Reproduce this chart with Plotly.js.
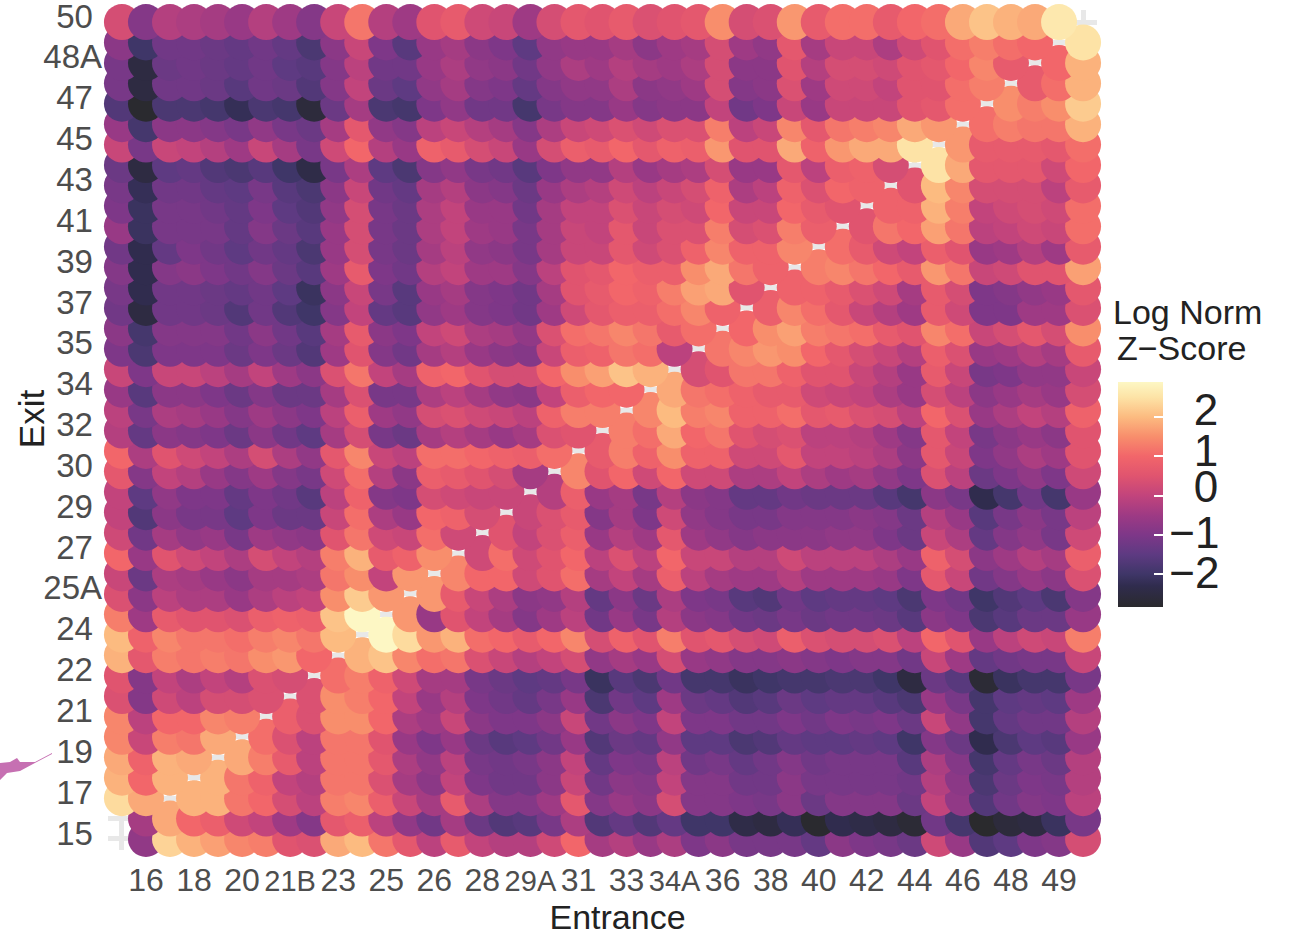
<!DOCTYPE html>
<html><head><meta charset="utf-8">
<script src="https://cdn.plot.ly/plotly-3.0.1.min.js"></script>
<style>html,body{margin:0;padding:0;background:#fff}</style>
</head><body><div id="chart" style="width:1289px;height:937px"></div>
<script>
const categories = ["15","16","17","18","19","20","21","21B","22","23","24","25","25A","26","27","28","29","29A","30","31","32","33","34","34A","35","36","37","38","39","40","41","42","43","44","45","46","47","48","48A","49","50"];
const xTickLabels = {"16":"16","18":"18","20":"20","21B":"21B","23":"23","25":"25","26":"26","28":"28","29A":"29A","31":"31","33":"33","34A":"34A","36":"36","38":"38","40":"40","42":"42","44":"44","46":"46","48":"48","49":"49"};
const yTickLabels = ["15","17","19","21","22","24","25A","27","29","30","32","34","35","37","39","41","43","45","47","48A","50"];
const narrowLabels = ["21B","29A","34A"];
const row15 = [null,-0.7,2.3,1.9,1.7,1.4,1.3,0.5,0.4,1.8,2.0,1.2,0.6,-0.1,0.7,0.0,-0.2,-0.2,0.2,1.0,-0.4,-0.2,-0.6,-0.3,-1.0,-0.8,-1.1,-1.1,-1.1,-1.4,-0.8,-1.0,-1.1,-1.3,0.2,-0.6,-1.7,-1.5,-1.0,-0.9,0.3];
const row16 = [null,-0.4,1.8,1.0,0.8,0.2,0.0,-0.5,-0.9,0.6,0.8,-0.1,-0.7,-1.2,-0.4,-1.3,-1.7,-1.6,-1.1,-0.3,-1.7,-1.4,-1.7,-1.4,-2.0,-2.0,-2.4,-2.5,-2.2,-2.8,-2.3,-2.4,-2.5,-2.7,-1.2,-1.9,-2.9,-2.6,-2.5,-2.1,-1.1];
const row17 = [2.4,1.8,null,1.9,1.9,1.2,1.0,0.3,-0.1,1.3,1.4,0.8,0.1,-0.4,0.7,-0.3,-0.9,-0.9,-0.5,0.6,-0.9,-0.6,-0.8,0.3,-0.9,-0.9,-1.0,-1.1,-0.8,-1.3,-0.9,-0.9,-0.9,-1.3,0.0,-0.7,-1.7,-1.2,-0.9,-1.0,-0.1];
const row18 = [1.9,1.0,1.9,null,1.9,1.2,0.9,0.0,-0.2,1.2,1.2,0.4,-0.4,-0.8,0.0,-1.0,-1.2,-1.2,-0.8,0.1,-1.2,-0.8,-0.9,0.0,-0.9,-0.9,-1.2,-1.2,-0.8,-1.1,-1.1,-1.1,-1.1,-1.2,-0.2,-0.8,-1.8,-1.3,-1.0,-1.1,-0.2];
const row19 = [1.8,0.9,1.9,1.8,null,1.8,1.3,0.7,-0.1,1.2,1.2,0.6,-0.3,-0.7,-0.1,-1.1,-1.2,-1.1,-0.8,0.0,-1.4,-1.0,-1.1,-0.1,-1.2,-1.1,-1.4,-1.2,-0.9,-1.2,-1.1,-1.1,-1.1,-1.6,-0.3,-0.9,-1.9,-1.4,-1.1,-1.3,-0.2];
const row20 = [1.4,0.1,1.3,1.2,1.8,null,1.1,0.4,-0.1,1.2,1.2,0.5,-0.6,-1.0,-0.6,-1.3,-1.6,-1.5,-1.2,-0.6,-1.7,-1.3,-1.4,-0.7,-1.5,-1.5,-1.8,-1.7,-1.4,-1.5,-1.5,-1.4,-1.5,-2.0,-0.9,-1.3,-2.3,-1.8,-1.5,-1.6,-0.6];
const row21 = [1.4,-0.1,1.0,1.0,1.4,1.3,null,0.8,0.4,1.5,1.5,1.0,-0.3,-0.5,0.1,-0.8,-1.0,-1.0,-0.8,0.1,-1.2,-0.8,-1.0,0.0,-1.0,-1.0,-1.2,-1.2,-1.0,-1.2,-1.0,-1.1,-1.0,-1.3,0.1,-0.7,-1.9,-1.4,-1.2,-1.2,-0.2];
const row21B = [0.4,-0.9,0.2,-0.1,0.3,0.3,0.4,null,0.4,1.5,1.3,1.0,0.0,-0.6,-0.2,-1.0,-1.2,-1.4,-1.1,-0.6,-1.8,-1.2,-1.5,-0.5,-1.3,-1.4,-1.7,-1.6,-1.3,-1.5,-1.4,-1.4,-1.6,-1.8,-0.6,-1.1,-1.9,-1.5,-1.4,-1.5,-0.5];
const row22 = [0.5,-0.9,0.0,-0.3,0.0,-0.2,0.4,0.3,null,1.1,1.3,0.9,0.2,-0.4,-0.4,-1.1,-1.3,-1.5,-1.4,-1.1,-2.1,-1.6,-1.8,-1.2,-1.9,-1.9,-2.1,-2.0,-1.9,-1.9,-1.8,-1.8,-2.0,-2.5,-1.3,-1.6,-2.7,-2.1,-1.9,-1.9,-1.1];
const row23 = [1.9,0.6,1.3,1.2,1.3,1.2,1.5,1.6,1.0,null,1.9,2.1,1.4,1.1,1.2,0.4,0.1,-0.2,0.0,0.3,-0.7,-0.4,-0.6,0.3,-0.6,-0.7,-0.9,-0.9,-0.8,-0.9,-1.0,-0.9,-0.9,-1.2,0.1,-0.5,-1.4,-1.2,-1.1,-1.1,0.1];
const row24 = [2.0,0.9,1.4,1.2,1.2,1.1,1.3,1.4,1.2,2.0,null,2.9,2.4,1.6,1.9,1.1,1.0,0.7,1.0,1.4,0.3,0.9,0.5,1.3,0.5,0.6,0.3,0.2,0.8,0.4,0.3,0.3,0.4,-0.1,1.0,0.5,-0.6,-0.1,0.2,0.1,1.3];
const row25 = [1.3,-0.5,0.7,0.5,0.5,0.4,0.8,0.9,0.8,2.1,2.9,null,1.6,-0.6,0.5,0.0,-0.4,-0.9,-0.5,-0.1,-1.2,-0.6,-1.1,-0.2,-0.8,-0.9,-1.2,-1.3,-1.1,-1.3,-1.2,-1.2,-1.3,-1.6,-0.8,-1.0,-1.8,-1.6,-1.3,-1.3,-0.6];
const row25A = [0.4,-0.8,-0.1,-0.3,-0.3,-0.6,-0.3,-0.1,0.0,1.5,2.2,1.6,null,1.6,0.7,0.1,-0.3,-0.8,-0.7,-0.2,-1.4,-0.8,-1.3,-0.3,-1.0,-1.1,-1.6,-1.7,-1.2,-1.5,-1.4,-1.4,-1.5,-1.8,-1.0,-1.2,-2.0,-1.7,-1.5,-1.8,-0.9];
const row26 = [0.1,-1.3,-0.3,-0.4,-0.6,-0.8,-0.4,-0.4,-0.3,1.2,1.5,0.0,1.6,null,1.4,1.0,1.0,0.2,0.5,1.1,-0.4,0.0,-0.4,0.8,-0.1,-0.4,-0.5,-0.5,-0.2,-0.5,-0.5,-0.5,-0.6,-1.0,0.6,0.1,-1.2,-0.9,-0.6,-0.8,0.4];
const row27 = [1.0,-0.6,0.5,0.2,0.0,-0.3,0.3,0.0,-0.2,1.3,1.9,0.7,0.9,1.5,null,0.2,1.1,0.2,0.5,1.0,-0.1,0.4,-0.1,1.0,0.1,0.1,-0.2,-0.2,0.2,-0.1,-0.1,-0.1,-0.3,-0.6,0.9,0.3,-0.8,-0.5,-0.2,-0.4,0.8];
const row28 = [0.2,-1.2,-0.4,-0.7,-0.6,-1.1,-0.5,-0.7,-0.8,0.5,1.2,0.2,0.1,1.1,0.2,null,0.5,0.0,0.4,0.8,-0.6,-0.2,-0.5,0.6,-0.5,-0.7,-0.9,-0.8,-0.8,-0.8,-0.7,-0.7,-1.0,-1.3,0.1,-0.3,-1.4,-0.9,-0.7,-1.1,0.2];
const row29 = [0.0,-1.7,-0.8,-1.1,-1.1,-1.5,-1.0,-1.3,-1.3,0.1,1.1,-0.3,-0.6,1.0,0.9,0.3,null,0.1,0.4,0.7,-0.9,-0.4,-1.0,0.2,-0.7,-0.9,-1.1,-1.1,-0.9,-0.9,-0.9,-0.8,-0.9,-1.3,-0.2,-0.6,-1.6,-1.1,-0.8,-1.1,-0.1];
const row29A = [0.0,-1.5,-0.7,-1.0,-1.0,-1.4,-1.0,-1.2,-1.6,-0.1,0.9,-0.9,-1.0,0.3,0.2,0.1,0.1,null,-0.2,0.8,-0.6,-0.4,-1.1,-0.2,-0.8,-0.9,-1.4,-1.4,-1.2,-1.3,-1.3,-1.3,-1.6,-1.9,-0.8,-1.1,-2.3,-1.9,-1.2,-1.9,-0.6];
const row30 = [0.6,-0.9,0.0,-0.2,-0.6,-0.9,-0.5,-0.9,-1.1,0.2,1.1,-0.2,-0.8,0.8,0.7,0.5,0.3,-0.4,null,1.4,0.5,1.0,0.2,1.0,0.2,0.2,-0.3,-0.3,0.0,-0.3,-0.5,-0.4,-0.7,-1.0,0.4,-0.1,-1.3,-1.0,-0.7,-1.0,0.2];
const row31 = [1.0,-0.3,0.5,0.2,0.0,-0.3,0.3,-0.3,-0.7,0.6,1.4,0.1,-0.1,1.1,1.1,1.0,0.9,0.8,1.1,null,0.7,1.3,0.9,1.5,0.9,0.9,0.2,0.2,0.6,0.0,0.0,-0.1,-0.3,-0.8,0.6,0.1,-1.0,-0.7,-0.3,-0.5,0.5];
const row32 = [-0.2,-1.4,-0.8,-0.9,-1.0,-1.3,-0.8,-1.2,-1.5,-0.4,0.3,-1.1,-1.3,-0.4,-0.2,-0.4,-0.6,-0.4,0.4,0.5,null,1.3,1.1,1.8,1.0,1.2,0.5,0.3,0.4,-0.1,-0.1,-0.2,-0.5,-0.9,0.6,0.0,-1.1,-0.8,-0.6,-0.8,0.5];
const row33 = [-0.1,-1.1,-0.3,-0.4,-0.6,-0.9,-0.5,-0.8,-1.0,-0.1,0.8,-0.5,-0.7,0.3,0.4,0.2,0.1,-0.1,0.9,1.3,1.3,null,1.4,2.0,1.3,1.4,0.9,0.9,1.1,0.6,0.7,0.4,0.3,-0.1,1.0,0.4,-0.6,-0.3,0.0,-0.2,0.9];
const row34 = [-0.6,-1.6,-0.8,-0.8,-1.0,-1.3,-0.9,-1.3,-1.3,-0.4,0.4,-1.1,-1.1,-0.3,-0.1,-0.4,-0.7,-0.8,0.0,0.8,1.0,1.0,null,1.8,1.2,1.1,0.9,0.7,0.7,0.2,0.1,0.0,-0.3,-0.6,0.3,-0.1,-0.8,-0.6,-0.4,-0.6,0.3];
const row34A = [0.1,-1.0,0.1,0.1,-0.1,-0.4,0.0,-0.5,-0.8,0.4,1.2,0.0,-0.4,0.9,1.0,0.5,0.3,0.3,1.0,1.5,1.7,2.1,1.9,null,0.3,0.5,1.2,1.2,0.9,0.5,0.5,0.1,-0.2,-0.6,0.7,0.1,-1.1,-1.0,-0.7,-0.7,0.1];
const row35 = [-1.0,-1.8,-1.0,-1.0,-1.0,-1.3,-1.0,-1.3,-1.7,-0.5,0.5,-0.9,-1.2,-0.4,-0.2,-0.6,-0.8,-0.9,0.1,0.8,0.9,1.2,1.1,-0.1,null,1.2,1.4,1.6,1.5,1.0,0.6,0.3,0.1,-0.2,0.8,0.4,-0.6,-0.5,-0.2,-0.4,0.7];
const row36 = [-0.8,-1.9,-0.9,-0.9,-0.9,-1.2,-0.8,-1.2,-1.6,-0.4,0.7,-0.8,-1.0,0.0,0.2,-0.3,-0.4,-0.7,0.4,1.1,1.2,1.4,1.2,0.7,1.1,null,1.0,1.5,1.7,1.3,1.2,1.1,0.7,0.5,1.4,1.1,0.1,0.3,0.6,0.3,1.5];
const row37 = [-1.2,-2.5,-1.2,-1.2,-1.3,-1.7,-1.2,-1.7,-2.0,-0.9,0.0,-1.4,-1.6,-0.7,-0.5,-0.9,-1.0,-1.2,-0.5,0.2,0.6,0.8,0.8,1.1,1.4,0.9,null,0.8,1.4,1.1,0.6,0.1,-0.2,-0.5,0.7,0.2,-1.0,-1.0,-0.5,-0.5,0.4];
const row38 = [-1.1,-2.3,-1.2,-1.2,-1.3,-1.4,-1.2,-1.5,-2.1,-0.8,0.1,-1.1,-1.6,-0.6,-0.4,-0.9,-1.0,-1.2,-0.4,0.5,0.7,1.0,0.9,1.3,1.7,1.8,0.5,null,0.9,0.9,0.7,0.4,0.2,-0.4,0.7,0.3,-1.0,-0.9,-0.7,-0.6,0.6];
const row39 = [-0.9,-2.3,-0.9,-0.8,-1.0,-1.2,-0.9,-1.3,-1.6,-0.5,0.7,-1.0,-1.2,-0.2,0.0,-0.5,-0.5,-0.9,-0.1,0.5,0.6,1.0,0.8,0.8,1.5,1.8,1.2,0.9,null,1.3,1.4,1.2,1.0,0.7,1.6,1.2,0.1,0.2,0.5,0.5,1.7];
const row40 = [-1.2,-2.3,-1.4,-1.0,-1.2,-1.5,-1.2,-1.4,-1.8,-0.6,0.3,-1.1,-1.3,-0.4,-0.1,-0.7,-0.8,-1.1,-0.4,0.1,0.1,0.6,0.2,0.4,0.9,1.4,0.9,0.9,1.4,null,1.1,0.7,0.2,0.0,0.8,0.5,-0.6,-0.5,-0.2,-0.5,0.7];
const row41 = [-0.6,-2.1,-1.1,-1.1,-1.1,-1.4,-0.9,-1.3,-1.6,-0.6,0.3,-1.1,-1.3,-0.3,0.0,-0.5,-0.6,-1.1,-0.4,0.1,0.0,0.6,0.1,0.4,0.4,1.3,0.3,0.4,1.3,0.8,null,0.5,1.2,1.0,1.7,1.2,-0.1,0.0,0.2,0.1,1.1];
const row42 = [-1.0,-2.1,-1.1,-1.1,-1.2,-1.4,-1.0,-1.5,-1.7,-0.7,0.3,-1.1,-1.3,-0.3,0.0,-0.6,-0.6,-1.2,-0.4,0.0,0.0,0.4,0.1,0.3,0.2,1.0,0.1,0.1,1.0,0.7,0.5,null,0.9,0.9,1.9,1.3,0.0,0.2,0.3,0.2,1.1];
const row43 = [-1.1,-2.2,-1.2,-1.2,-1.4,-1.5,-1.1,-1.6,-1.8,-0.8,0.1,-1.2,-1.4,-0.4,-0.2,-0.8,-0.9,-1.3,-0.6,-0.3,-0.2,0.2,-0.1,0.1,0.3,0.9,-0.3,-0.1,0.9,0.4,1.0,0.9,null,0.5,2.0,1.4,0.3,0.3,0.3,-0.1,0.7];
const row44 = [-1.3,-2.5,-1.5,-1.4,-1.7,-1.8,-1.6,-2.0,-2.4,-1.1,-0.3,-1.5,-1.8,-0.9,-0.7,-1.1,-1.2,-1.6,-1.0,-0.7,-0.7,-0.2,-0.6,-0.4,-0.3,0.3,-0.6,-0.6,0.6,-0.1,0.8,0.9,0.3,null,2.5,1.8,0.6,0.6,0.6,0.2,1.0];
const row45 = [0.1,-1.1,0.1,0.0,-0.2,-0.5,0.1,-0.4,-1.1,0.2,1.0,-0.2,-0.6,0.9,0.7,0.3,0.1,-0.6,0.3,0.8,0.7,1.0,0.6,0.9,0.8,1.6,0.5,0.5,1.8,0.9,1.6,1.8,1.8,2.5,null,1.6,0.7,0.7,0.7,0.6,1.1];
const row46 = [-0.6,-1.9,-0.8,-0.8,-0.9,-1.1,-0.7,-1.1,-1.3,-0.4,0.6,-0.7,-0.9,-0.1,0.1,-0.2,-0.4,-0.9,-0.3,0.1,0.2,0.4,0.2,0.4,0.4,1.3,-0.1,0.1,1.4,0.6,1.2,1.3,1.4,1.8,1.6,null,1.1,1.3,1.2,1.2,1.9];
const row47 = [-1.7,-2.8,-1.8,-1.8,-1.9,-2.2,-1.8,-1.9,-2.6,-1.3,-0.4,-1.8,-1.9,-1.0,-0.7,-1.2,-1.2,-1.9,-1.1,-0.9,-0.9,-0.6,-0.9,-0.8,-0.8,0.0,-1.2,-1.0,0.1,-0.6,0.1,0.1,0.1,0.5,0.6,1.1,null,1.5,1.3,1.5,2.2];
const row48 = [-1.1,-2.5,-1.2,-1.2,-1.3,-1.6,-1.2,-1.3,-1.7,-0.9,0.0,-1.3,-1.5,-0.7,-0.4,-0.9,-1.0,-1.4,-0.9,-0.7,-0.7,-0.3,-0.8,-0.7,-0.5,0.3,-0.9,-0.8,0.4,-0.5,0.2,0.2,0.0,0.5,0.5,1.1,1.3,null,0.7,1.1,1.9];
const row48A = [-1.1,-2.5,-1.3,-1.2,-1.3,-1.4,-1.2,-1.5,-1.6,-0.9,-0.1,-1.2,-1.2,-0.6,-0.3,-0.7,-0.8,-1.2,-0.7,-0.3,-0.5,-0.2,-0.4,-0.5,-0.3,0.3,-0.8,-0.8,0.5,-0.2,0.3,0.3,0.2,0.5,0.6,1.0,1.4,0.7,null,1.0,1.9];
const row49 = [-0.8,-2.0,-1.2,-1.2,-1.3,-1.4,-1.2,-1.4,-1.8,-0.8,0.1,-1.0,-1.6,-0.6,-0.4,-0.8,-1.0,-1.5,-0.7,-0.6,-0.6,-0.4,-0.8,-0.5,-0.4,0.3,-0.5,-0.7,0.6,-0.4,0.1,0.1,-0.3,0.2,0.5,1.1,1.3,1.1,1.0,null,2.5];
const row50 = [0.3,-0.9,-0.2,-0.3,-0.4,-0.6,-0.2,-0.5,-0.9,0.1,1.2,-0.2,-0.5,0.5,0.7,0.2,0.1,-0.5,0.3,0.6,0.5,0.7,0.4,0.5,0.6,1.5,0.3,0.4,1.6,0.7,1.1,1.1,0.7,1.0,1.1,1.8,2.1,1.9,1.8,2.6,null];
const exitRows = [row15,row16,row17,row18,row19,row20,row21,row21B,row22,row23,row24,row25,row25A,row26,row27,row28,row29,row29A,row30,row31,row32,row33,row34,row34A,row35,row36,row37,row38,row39,row40,row41,row42,row43,row44,row45,row46,row47,row48,row48A,row49,row50];
const legendTicks = [-2,-1,0,1,2];
const zMin = -2.84, zMax = 2.89;

const xs=[], ys=[], vs=[];
exitRows.forEach((r,i)=>r.forEach((v,j)=>{ if(v!==null){ xs.push(categories[j]); ys.push(categories[i]); vs.push(v);} }));

const colorscale = [
 [-2.84,'#2a2a2d'],[-2.3,'#302c4e'],[-2,'#3f3668'],[-1.5,'#5e3a82'],[-1,'#7e3788'],[-0.5,'#9e3a84'],
 [0,'#c2447c'],[0.5,'#e0546f'],[1,'#f2666a'],[1.5,'#f88e6c'],[2,'#fcbb80'],[2.5,'#fde3a6'],[2.89,'#fdf7c4']
].map(([v,c])=>[(v-zMin)/(zMax-zMin),c]);

const P = {l:108,r:1097,t:10,b:850};
const px = x=>(x-P.l)/(P.r-P.l);
const py = y=>(P.b-y)/(P.b-P.t);
const bar = {x0:1118,x1:1163,y0:382,y1:607};
const cbTitleHeight = 87;

const xticktext = categories.map(c=>{
  const t = xTickLabels[c]; if(!t) return '';
  return narrowLabels.includes(t) ? `<span style="font-size:29px">${t}</span>` : t;
});
const yticktext = categories.map(c=>{
  if(!yTickLabels.includes(c)) return '';
  return /A/.test(c) ? c : c+'\u00a0';
});

const leftTicks = legendTicks.map(v=>{
  const yy = bar.y1-(v-zMin)/(zMax-zMin)*(bar.y1-bar.y0);
  return {type:'line',xref:'paper',yref:'paper',x0:px(bar.x0),x1:px(bar.x0+9),y0:py(yy),y1:py(yy),line:{color:'#ffffff',width:1.5},layer:'above'};
});
const squiggle = [[52,753],[35,762],[20,762],[17,758],[10,762],[0,763],[0,780],[7,773],[20,771],[33,764],[52,754]];
const squigglePath = 'M'+squiggle.map(p=>px(p[0])+','+py(p[1])).join('L')+'Z';

const trace = {type:'scatter',mode:'markers',x:xs,y:ys,cliponaxis:false,hoverinfo:'x+y+text',text:vs.map(String),
 marker:{size:36,color:vs,cmin:zMin,cmax:zMax,colorscale:colorscale,line:{width:0},opacity:1,
  showscale:true,
  colorbar:{title:{text:'Log Norm<br>Z\u2212Score',side:'top',font:{family:'Liberation Sans',size:34,color:'#222'}},
   thickness:45,thicknessmode:'pixels',len:bar.y1-bar.y0+cbTitleHeight,lenmode:'pixels',
   x:px(bar.x0),xanchor:'left',xpad:0,y:py(bar.y1),yanchor:'bottom',ypad:0,
   outlinewidth:0,borderwidth:0,ticks:'inside',ticklen:9,tickwidth:1.5,tickcolor:'#ffffff',
   tickmode:'array',tickvals:legendTicks,
   ticktext:legendTicks.map(v=>v<0?'\u2212'+Math.abs(v):'\u00a0\u00a0'+v),
   tickfont:{family:'Liberation Sans',size:44,color:'#222'}}}};

const layout = {width:1289,height:937,paper_bgcolor:'#fff',plot_bgcolor:'#fff',showlegend:false,
 margin:{l:P.l,r:1289-P.r,t:P.t,b:937-P.b,pad:0},
 font:{family:'Liberation Sans'},
 xaxis:{type:'category',categoryorder:'array',categoryarray:categories,range:[-0.58,40.58],
  tickmode:'array',tickvals:categories,ticktext:xticktext,ticks:'',showline:false,zeroline:false,
  showgrid:true,gridcolor:'#e8e8e8',gridwidth:5,tickangle:0,ticklabelstandoff:8,
  tickfont:{family:'Liberation Sans',size:32,color:'#4d4d4d'},
  title:{text:'Entrance',font:{family:'Liberation Sans',size:34,color:'#222'},standoff:2}},
 yaxis:{type:'category',categoryorder:'array',categoryarray:categories,range:[-0.54,40.59],
  tickmode:'array',tickvals:categories,ticktext:yticktext,ticks:'',showline:false,zeroline:false,
  showgrid:true,gridcolor:'#e8e8e8',gridwidth:5,ticklabelshift:-6,ticklabelstandoff:5,
  tickfont:{family:'Liberation Sans',size:33,color:'#4d4d4d'},
  title:{text:'Exit',font:{family:'Liberation Sans',size:35,color:'#222'},standoff:2}},
 shapes:[...leftTicks,{type:'path',xref:'paper',yref:'paper',path:squigglePath,fillcolor:'#c670b2',line:{width:0},layer:'above'}]
};

const nudge = (el,dx,dy)=>{ if(el) el.setAttribute('transform',`translate(${dx},${dy}) `+(el.getAttribute('transform')||'')); };
const legendLabelNudge = {'2':[-3,-8],'1':[-3,-6],'0':[-3,-9],'\u22121':[-3,-2],'\u22122':[-3,-1]};

Plotly.newPlot('chart',[trace],layout,{displayModeBar:false,responsive:false}).then(gd=>{
  nudge(gd.querySelector('.xtitle'),15,0);
  nudge(gd.querySelector('.ytitle'),12,-11);
  gd.querySelectorAll('.colorbar .cbaxis text, .colorbar g.cbaxis text').forEach(t=>{
    const k=(t.textContent||'').replace(/\u00a0/g,'').trim();
    const d=legendLabelNudge[k]; if(d) nudge(t,d[0],d[1]);
  });
  const title=gd.querySelector('.colorbar .cbtitle text');
  if(title){
    const lines=title.querySelectorAll('tspan.line');
    if(lines[1]){ lines[1].setAttribute('y',parseFloat(lines[1].getAttribute('y'))-8); lines[1].setAttribute('x',parseFloat(lines[1].getAttribute('x'))+4); }
    nudge(title,-5,0);
  }
});
</script></body></html>
